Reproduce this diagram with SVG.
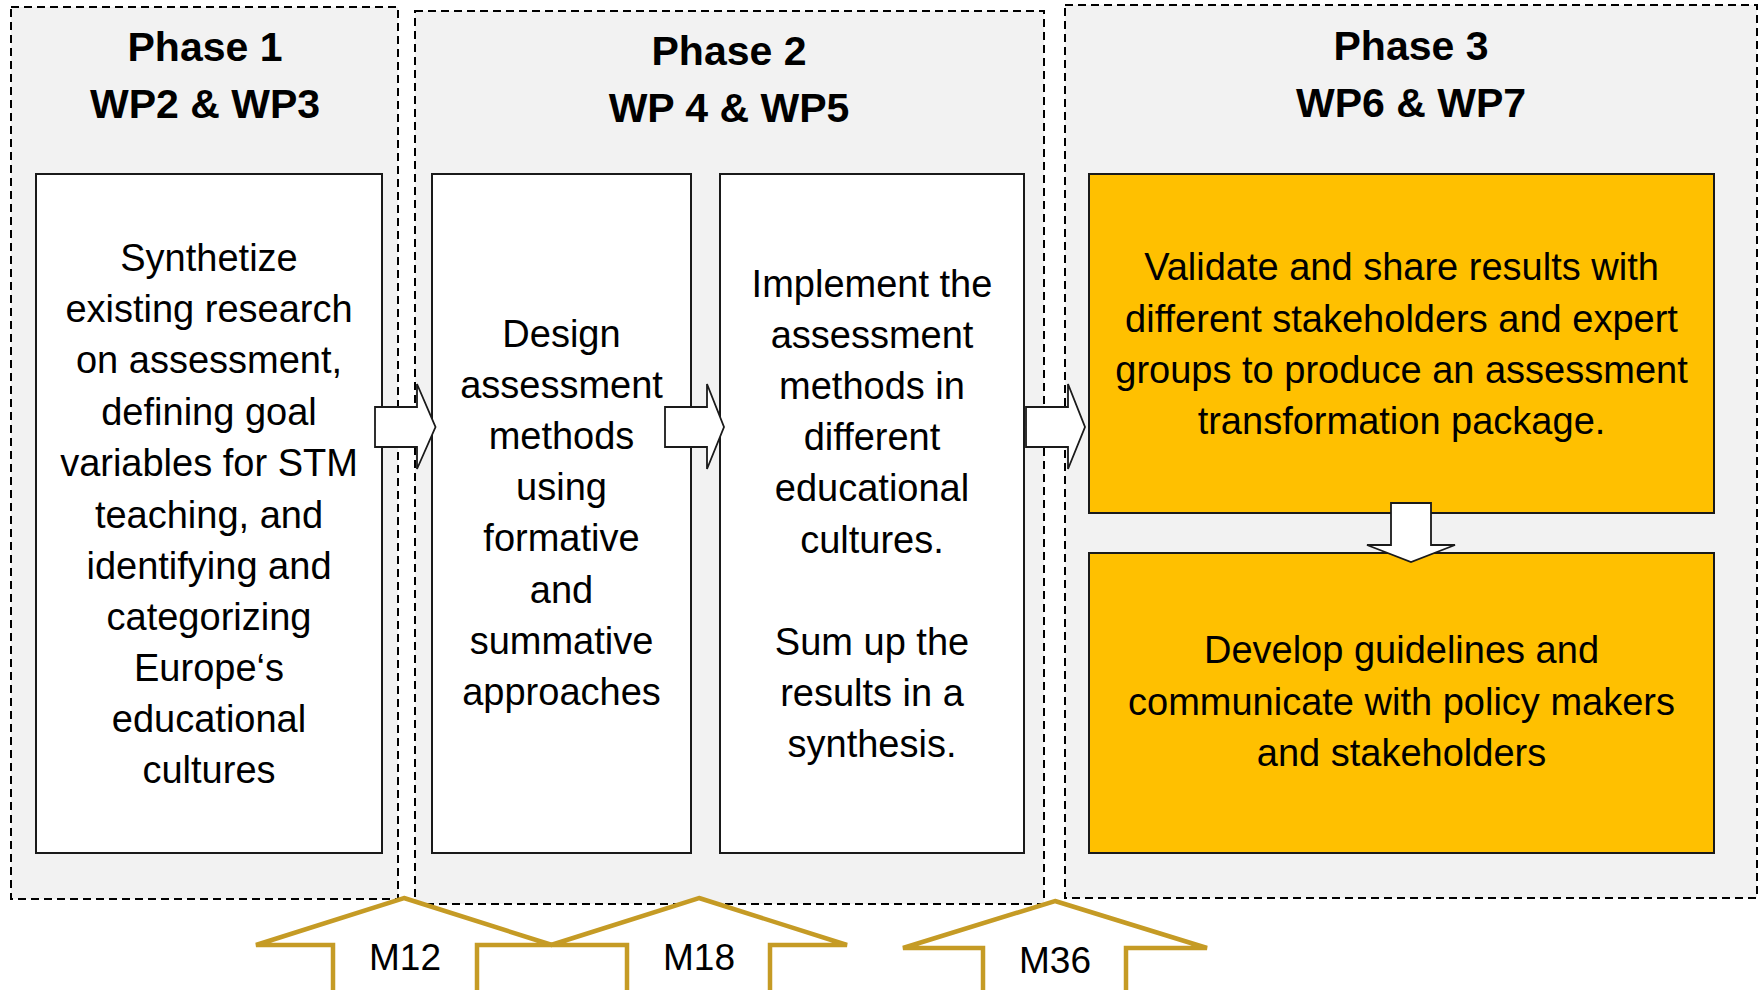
<svg xmlns="http://www.w3.org/2000/svg" width="1762" height="990" viewBox="0 0 1762 990">
<style>
.phase{fill:#F2F2F2;stroke:#000;stroke-width:2;stroke-dasharray:8 5}
.box{fill:#FFFFFF;stroke:#1a1a1a;stroke-width:2}
.gold{fill:#FFC000;stroke:#1a1a1a;stroke-width:2}
.title{font-family:"Liberation Sans",Arial,sans-serif;font-weight:bold;font-size:41px;fill:#000;text-anchor:middle}
.body{font-family:"Liberation Sans",Arial,sans-serif;font-size:38px;fill:#000;text-anchor:middle}
.mlabel{font-family:"Liberation Sans",Arial,sans-serif;font-size:37px;fill:#000;text-anchor:middle}
.arrow{fill:#FFFFFF;stroke:#1a1a1a;stroke-width:1.8;stroke-linejoin:miter}
.mile{fill:#FFFFFF;stroke:#C59B25;stroke-width:4.5;stroke-linejoin:miter}
</style>
<rect width="1762" height="990" fill="#FFFFFF"/>

<g id="phase1">
<rect class="phase" x="11" y="7" width="387" height="892"/>
<text class="title" x="205" y="61">Phase 1</text>
<text class="title" x="205" y="118">WP2 &amp; WP3</text>
</g>
<g id="phase2">
<rect class="phase" x="415" y="11" width="629" height="893"/>
<text class="title" x="729" y="65">Phase 2</text>
<text class="title" x="729" y="122">WP 4 &amp; WP5</text>
</g>
<g id="phase3">
<rect class="phase" x="1065" y="5" width="692" height="893"/>
<text class="title" x="1411" y="60">Phase 3</text>
<text class="title" x="1411" y="117">WP6 &amp; WP7</text>
</g>

<g id="synthetize">
<rect class="box" x="36" y="174" width="346" height="679"/>
<text class="body" x="209" y="271">Synthetize</text>
<text class="body" x="209" y="322">existing research</text>
<text class="body" x="209" y="373">on assessment,</text>
<text class="body" x="209" y="425">defining goal</text>
<text class="body" x="209" y="476">variables for STM</text>
<text class="body" x="209" y="528">teaching, and</text>
<text class="body" x="209" y="579">identifying and</text>
<text class="body" x="209" y="630">categorizing</text>
<text class="body" x="209" y="681">Europe‘s</text>
<text class="body" x="209" y="732">educational</text>
<text class="body" x="209" y="783">cultures</text>
</g>

<g id="design">
<rect class="box" x="432" y="174" width="259" height="679"/>
<text class="body" x="561.5" y="347">Design</text>
<text class="body" x="561.5" y="398">assessment</text>
<text class="body" x="561.5" y="449">methods</text>
<text class="body" x="561.5" y="500">using</text>
<text class="body" x="561.5" y="551">formative</text>
<text class="body" x="561.5" y="603">and</text>
<text class="body" x="561.5" y="654">summative</text>
<text class="body" x="561.5" y="705">approaches</text>
</g>

<g id="implement">
<rect class="box" x="720" y="174" width="304" height="679"/>
<text class="body" x="872" y="297">Implement the</text>
<text class="body" x="872" y="348">assessment</text>
<text class="body" x="872" y="399">methods in</text>
<text class="body" x="872" y="450">different</text>
<text class="body" x="872" y="501">educational</text>
<text class="body" x="872" y="553">cultures.</text>
<text class="body" x="872" y="655">Sum up the</text>
<text class="body" x="872" y="706">results in a</text>
<text class="body" x="872" y="757">synthesis.</text>
</g>

<g id="validate">
<rect class="gold" x="1089" y="174" width="625" height="339"/>
<text class="body" x="1401.5" y="280">Validate and share results with</text>
<text class="body" x="1401.5" y="332">different stakeholders and expert</text>
<text class="body" x="1401.5" y="383">groups to produce an assessment</text>
<text class="body" x="1401.5" y="434">transformation package.</text>
</g>

<g id="develop">
<rect class="gold" x="1089" y="553" width="625" height="300"/>
<text class="body" x="1401.5" y="663">Develop guidelines and</text>
<text class="body" x="1401.5" y="715">communicate with policy makers</text>
<text class="body" x="1401.5" y="766">and stakeholders</text>
</g>

<g id="connectors">
<polygon class="arrow" points="375,407 417,407 417,384 435.5,427 417,469 417,447 375,447"/>
<polygon class="arrow" points="665,407 707,407 707,384 724,427 707,469 707,447 665,447"/>
<polygon class="arrow" points="1026,407 1068,407 1068,384 1085,427 1068,469 1068,447 1026,447"/>
<polygon class="arrow" points="1391,503 1431,503 1431,545 1455,545 1411,562 1367,545 1391,545"/>
</g>

<g id="m12">
<polygon class="mile" points="404,898 552,945 477,945 477,1000 333,1000 333,945 256,945"/>
<text class="mlabel" x="405" y="970">M12</text>
</g>
<g id="m18">
<polygon class="mile" points="699,898 847,945 770,945 770,1000 627,1000 627,945 551,945"/>
<text class="mlabel" x="699" y="970">M18</text>
</g>
<g id="m36">
<polygon class="mile" points="1055,901 1207,948 1126,948 1126,1000 983,1000 983,948 903,948"/>
<text class="mlabel" x="1055" y="973">M36</text>
</g>
</svg>
